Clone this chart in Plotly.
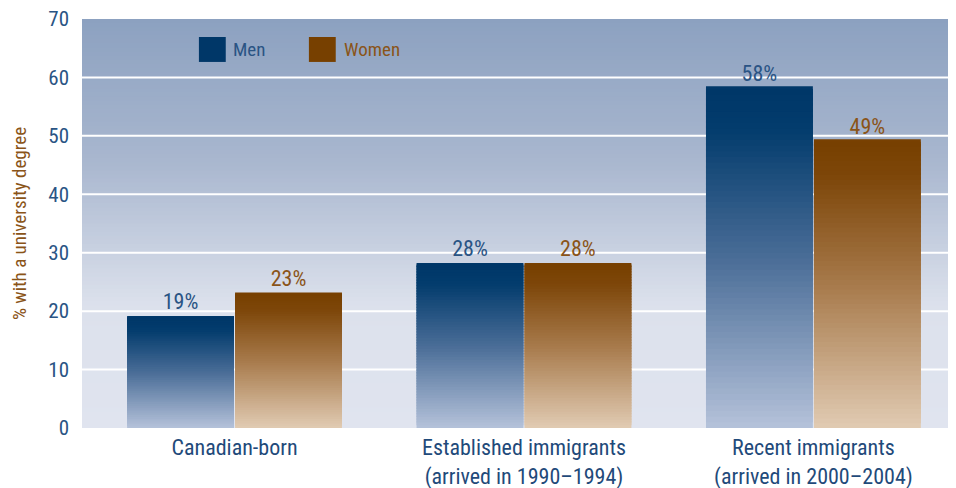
import plotly.graph_objects as go

categories = ["Canadian-born",
              "Established immigrants<br>(arrived in 1990–1994)",
              "Recent immigrants<br>(arrived in 2000–2004)"]
men = [19, 28, 58]
women = [23, 28, 49]
y_ticks = [0, 10, 20, 30, 40, 50, 60, 70]

FONT = "Liberation Sans Narrow, Roboto Condensed, Arial Narrow, sans-serif"
N = 60  # slices per bar, to fake the vertical gradient


def hex_rgb(h):
    h = h.lstrip("#")
    return tuple(int(h[i:i + 2], 16) for i in (0, 2, 4))


def grad(stops, t):
    # stops: list of (pos, hex), t=0 at the top
    for (p0, c0), (p1, c1) in zip(stops, stops[1:]):
        if p0 <= t <= p1:
            f = (t - p0) / (p1 - p0) if p1 > p0 else 0
            a, b = hex_rgb(c0), hex_rgb(c1)
            return "rgb(%d,%d,%d)" % tuple(round(a[i] + (b[i] - a[i]) * f) for i in range(3))
    return stops[-1][1]


men_stops = [(0, "#003768"), (0.12, "#033c6d"), (0.5, "#4a6d97"), (1, "#b5c2da")]
women_stops = [(0, "#774000"), (0.12, "#7d4609"), (0.5, "#a77a4b"), (1, "#e1cbb3")]
bg_stops = [(0, "#8ca1c0"), (0.35, "#a9b7cf"), (0.7, "#dce1ec"), (1, "#e0e4ef")]

fig = go.Figure()

for name, vals, stops, txtcol in [("Men", men, men_stops, "#2a5484"),
                                  ("Women", women, women_stops, "#8a5418")]:
    for k in range(N):
        top = k == N - 1
        # lower slices overlap into the next one (drawn later) to hide seams
        h = 1.0 if top else 2.5
        fig.add_trace(go.Bar(
            x=categories,
            y=[v / N * h for v in vals],
            base=[v * k / N for v in vals],
            offsetgroup=name,
            marker=dict(color=grad(stops, 1 - (k + 0.5) / N), line=dict(width=0)),
            text=[f"{v}%" for v in vals] if top else None,
            textposition="outside" if top else "none",
            constraintext="none",
            textfont=dict(family=FONT, size=22, color=txtcol),
            cliponaxis=False,
            showlegend=False,
            hoverinfo="skip",
            name=name,
        ))

shapes = []
M = 100
for i in range(M):
    shapes.append(dict(type="rect", xref="x domain", yref="y domain",
                       x0=0, x1=1, y0=max(0, 1 - (i + 2.5) / M), y1=1 - i / M,
                       fillcolor=grad(bg_stops, (i + 0.5) / M),
                       line=dict(width=0), layer="below"))
for t in y_ticks[1:-1]:
    shapes.append(dict(type="line", xref="x domain", yref="y",
                       x0=0, x1=1, y0=t, y1=t,
                       line=dict(color="white", width=2), layer="below"))

# legend drawn by hand to get the big square swatches
annotations = []
for name, col, txtcol, x0, xt in [("Men", "#003768", "#2a5484", 0.135, 0.172),
                                  ("Women", "#774000", "#8a5418", 0.262, 0.300)]:
    shapes.append(dict(type="rect", xref="paper", yref="paper",
                       x0=x0, x1=x0 + 0.031, y0=0.895, y1=0.956,
                       fillcolor=col, line=dict(width=0)))
    annotations.append(dict(xref="paper", yref="paper", x=xt, y=0.926,
                            text=name, showarrow=False, xanchor="left",
                            yanchor="middle",
                            font=dict(family=FONT, size=19, color=txtcol)))

# page body has an 8px margin, so the figure sits 8px in from the window edge
fig.update_layout(
    width=940, height=480,
    barmode="group",
    bargap=0.254,
    bargroupgap=0.01,
    paper_bgcolor="white",
    plot_bgcolor="#e0e4ef",
    margin=dict(l=74, r=0, t=11, b=60, autoexpand=False),
    shapes=shapes,
    annotations=annotations,
    font=dict(family=FONT),
    xaxis=dict(range=[-0.527, 2.465], showgrid=False, zeroline=False,
               showline=False, ticks="", ticklabelstandoff=4,
               automargin=False,
               tickfont=dict(family=FONT, size=22, color="#1f4a7a")),
    yaxis=dict(range=[0, 70], tickvals=y_ticks, showgrid=False,
               zeroline=False, showline=False, ticks="",
               ticklabelstandoff=12, automargin=False,
               ticklabeloverflow="allow",
               tickfont=dict(family=FONT, size=21, color="#2a5484"),
               title=dict(text="% with a university degree", standoff=18,
                          font=dict(family=FONT, size=19, color="#8a5418"))),
)

fig.write_html("out.html")
